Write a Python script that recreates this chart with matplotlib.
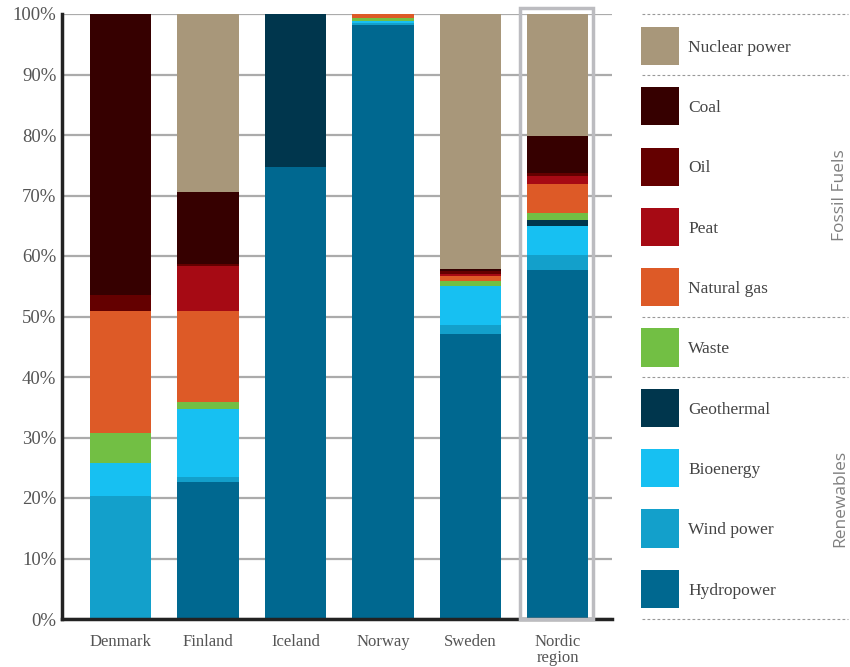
import numpy as np
import matplotlib.pyplot as plt
from matplotlib.patches import Rectangle

# Datos (porcentaje de la producción eléctrica)
paises = ['Denmark', 'Finland', 'Iceland', 'Norway', 'Sweden', 'Nordic\nregion']

hydro      = [0.0, 22.6, 74.7, 98.1, 47.1, 57.7]
wind       = [20.3, 0.9, 0.0, 0.4, 1.5, 2.5]
bio        = [5.5, 11.2, 0.0, 0.3, 6.5, 4.8]
geothermal = [0.0, 0.0, 25.3, 0.0, 0.0, 1.0]
waste      = [5.0, 1.2, 0.0, 0.6, 0.8, 1.1]
gas        = [20.1, 15.0, 0.0, 0.6, 0.8, 4.8]
peat       = [0.0, 7.4, 0.0, 0.0, 0.4, 1.3]
oil        = [2.7, 0.3, 0.0, 0.0, 0.4, 0.6]
coal       = [46.4, 11.9, 0.0, 0.0, 0.4, 6.0]
nuclear    = [0.0, 29.5, 0.0, 0.0, 42.1, 20.2]

series = [
    ('Hydropower', hydro, '#006890'),
    ('Wind power', wind, '#13a0cb'),
    ('Bioenergy', bio, '#17c0f2'),
    ('Geothermal', geothermal, '#00364d'),
    ('Waste', waste, '#72bf44'),
    ('Natural gas', gas, '#dd5a27'),
    ('Peat', peat, '#a60a14'),
    ('Oil', oil, '#640000'),
    ('Coal', coal, '#360000'),
    ('Nuclear power', nuclear, '#a8977a'),
]

serif = ['Liberation Serif', 'DejaVu Serif']
W, H = 850, 667
fig = plt.figure(figsize=(W / 100, H / 100), dpi=100)

bottom_px, top_px = 619, 14
ax = fig.add_axes([62 / W, (H - bottom_px) / H, (612 - 62) / W, (bottom_px - top_px) / H])

x = np.arange(len(paises))
base = np.zeros(len(paises))
for nombre, vals, color in series:
    ax.bar(x, vals, bottom=base, width=0.7, color=color, zorder=2, linewidth=0)
    base += np.array(vals)

ax.set_xlim(-0.67, 5.62)
ax.set_ylim(0, 100)
ax.set_yticks(np.arange(0, 101, 10))
ax.set_yticklabels([f'{v}%' for v in range(0, 101, 10)], fontfamily=serif,
                   fontsize=13.5, color='#555555')
ax.set_xticks(x)
ax.set_xticklabels(paises, fontfamily=serif, fontsize=12, color='#555555',
                   linespacing=1.0)
ax.tick_params(axis='both', length=0)
ax.tick_params(axis='y', pad=4)
ax.tick_params(axis='x', pad=11)
ax.yaxis.grid(True, color='#ababab', linewidth=1.6, zorder=0)
ax.set_axisbelow(True)
for s in ['top', 'right']:
    ax.spines[s].set_visible(False)
ax.spines['left'].set_color('#222222')
ax.spines['left'].set_linewidth(2.5)
ax.spines['bottom'].set_color('#222222')
ax.spines['bottom'].set_linewidth(2.5)

# Recuadro de la región nórdica
ax.add_patch(Rectangle((4.571, 0), 0.835, 101, fill=False, edgecolor='#bcbcc0',
                       linewidth=2.5, clip_on=False, zorder=3))

# Leyenda a la derecha
lax = fig.add_axes([612 / W, (H - bottom_px) / H, (W - 612) / W, (bottom_px - top_px) / H])
lax.set_xlim(612, W)
lax.set_ylim(0, 100)
lax.axis('off')

centros = np.linspace(94.7, 5.0, 10)
for (nombre, vals, color), yc in zip(series[::-1], centros):
    lax.add_patch(Rectangle((641, yc - 3.15), 38, 6.3, color=color, linewidth=0))
    lax.text(688, yc - 0.3, nombre, fontfamily=serif, fontsize=12.5, color='#444444',
             va='center', ha='left')

for yl in [100, 90, 50, 40, 0]:
    lax.plot([642, 848], [yl, yl], color='#999999', linewidth=0.8,
             linestyle=(0, (2.5, 2)), clip_on=False)

lax.text(840, 70, 'Fossil Fuels', rotation=90, fontfamily='Open Sans', fontsize=12.5,
         color='#808080', va='center', ha='center')
lax.text(840, 20, 'Renewables', rotation=90, fontfamily='Open Sans', fontsize=12.5,
         color='#808080', va='center', ha='center')

plt.savefig('out.png', dpi=100)
